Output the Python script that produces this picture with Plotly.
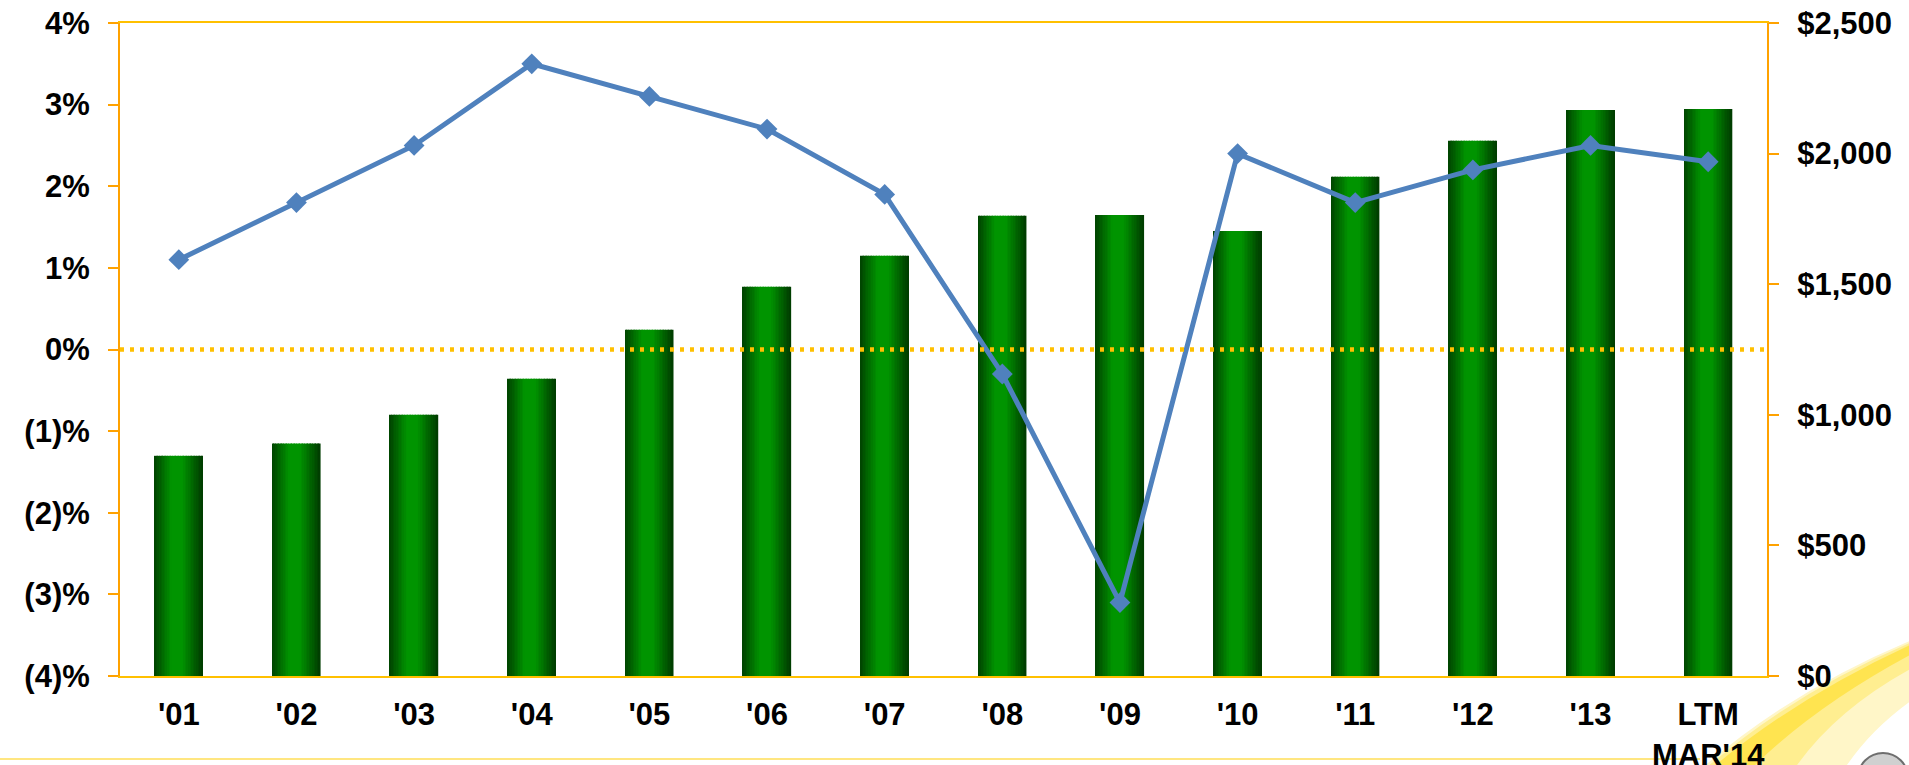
import plotly.graph_objects as go

# ---- data -------------------------------------------------------------
categories = ["'01", "'02", "'03", "'04", "'05", "'06", "'07",
              "'08", "'09", "'10", "'11", "'12", "'13", "LTM<br>MAR'14"]
revenue = [843, 890, 1000, 1138, 1326, 1490, 1609,
           1762, 1765, 1704, 1911, 2049, 2167, 2171]          # $ (right axis)
growth = [1.1, 1.8, 2.5, 3.5, 3.1, 2.7, 1.9,
          -0.3, -3.1, 2.4, 1.8, 2.2, 2.5, 2.3]                # % (left axis)

pct_ticks = [-4, -3, -2, -1, 0, 1, 2, 3, 4]
pct_labels = ["(4)%", "(3)%", "(2)%", "(1)%", "0%", "1%", "2%", "3%", "4%"]
usd_ticks = [0, 500, 1000, 1500, 2000, 2500]
usd_labels = ["$0", "$500", "$1,000", "$1,500", "$2,000", "$2,500"]

# ---- styling ----------------------------------------------------------
W, H = 1909, 765
ML, MR, MT, MB = 120, 142, 23, 89
FONT = "Liberation Sans, Arial, Helvetica, sans-serif"
ORANGE = "#FFA200"
GOLD = "#FFC000"
LINE_BLUE = "#4F81BD"

BAR_W = 0.41
N_SLICES = 30
# cylinder-like shading across each bar (position, rgb)
shade_stops = [(0.00, (0, 66, 0)), (0.36, (0, 148, 0)),
               (0.58, (0, 148, 0)), (1.00, (0, 58, 0))]


def shade(t):
    for (t0, c0), (t1, c1) in zip(shade_stops[:-1], shade_stops[1:]):
        if t0 <= t <= t1:
            f = (t - t0) / (t1 - t0) if t1 > t0 else 0
            r, g, b = (round(a + (bb - a) * f) for a, bb in zip(c0, c1))
            return f"rgb({r},{g},{b})"
    return "rgb(%d,%d,%d)" % shade_stops[-1][1]


fig = go.Figure()

step = BAR_W / N_SLICES
for i in range(N_SLICES):
    w = step if i == N_SLICES - 1 else step * 1.15
    fig.add_trace(go.Bar(
        x=categories, y=revenue, yaxis="y",
        width=w, offset=-BAR_W / 2 + i * step,
        marker=dict(color=shade((i + 0.5) / N_SLICES), line=dict(width=0)),
        hoverinfo="skip", showlegend=False,
    ))

fig.add_trace(go.Scatter(
    x=categories, y=growth, yaxis="y2", mode="lines+markers",
    line=dict(color=LINE_BLUE, width=5),
    marker=dict(symbol="diamond", size=16, color=LINE_BLUE),
    showlegend=False,
))


# ---- decoration: light beam in the lower right corner -----------------
def px(x):
    return (x - ML) / (W - ML - MR)


def py(y):
    return (H - MB - y) / (H - MT - MB)


def path(points):
    out = []
    for cmd, *xy in points:
        coords = " ".join(f"{px(xy[k]):.5f},{py(xy[k + 1]):.5f}"
                          for k in range(0, len(xy), 2))
        out.append(f"{cmd} {coords}")
    return " ".join(out) + " Z"


beam_layers = [
    ("#FFF6C8", [("M", 1912, 640), ("L", 1912, 700),
                 ("Q", 1870, 730, 1845, 768), ("L", 1702, 768),
                 ("Q", 1792, 690, 1912, 640)]),
    ("#FFEE90", [("M", 1912, 642), ("L", 1912, 668),
                 ("Q", 1835, 710, 1795, 768), ("L", 1706, 768),
                 ("Q", 1794, 692, 1912, 642)]),
    ("#FFE450", [("M", 1912, 644), ("Q", 1798, 696, 1712, 768),
                 ("L", 1752, 768), ("Q", 1815, 706, 1912, 654)]),
]

shapes = [
    # faint rule along the bottom of the page
    dict(type="line", xref="paper", yref="paper",
         x0=px(0), x1=px(1700), y0=py(759), y1=py(759),
         line=dict(color="#FFE680", width=2), layer="below"),
]
for color, pts in beam_layers:
    shapes.append(dict(type="path", xref="paper", yref="paper",
                       path=path(pts), fillcolor=color,
                       line=dict(width=0), layer="below"))
shapes.append(dict(type="circle", xref="paper", yref="paper",
                   x0=px(1858), x1=px(1908), y0=py(753), y1=py(803),
                   fillcolor="#D0D0D0", line=dict(color="#6E6E6E", width=2),
                   layer="below"))
# dotted zero line of the growth axis
shapes.append(dict(type="line", xref="paper", yref="y2",
                   x0=0, x1=1, y0=0, y1=0,
                   line=dict(color=GOLD, width=4.5, dash="4px,6px"),
                   layer="above"))

tickfont = dict(family=FONT, size=31, color="black", weight="bold")

fig.update_layout(
    width=W, height=H,
    margin=dict(l=ML, r=MR, t=MT, b=MB, pad=0, autoexpand=False),
    paper_bgcolor="white", plot_bgcolor="rgba(0,0,0,0)",
    barmode="overlay", showlegend=False,
    font=dict(family=FONT, size=31, color="black"),
    shapes=shapes,
    xaxis=dict(
        type="category", range=[-0.5, len(categories) - 0.5],
        showline=True, linecolor=GOLD, linewidth=2, mirror=True,
        ticks="", showgrid=False, zeroline=False, automargin=False,
        tickfont=tickfont, ticklabelstandoff=10,
    ),
    yaxis=dict(
        side="right", range=[0, 2500], automargin=False,
        tickmode="array", tickvals=usd_ticks, ticktext=usd_labels,
        showline=True, linecolor=ORANGE, linewidth=2,
        ticks="outside", ticklen=10, tickwidth=2, tickcolor=ORANGE,
        showgrid=False, zeroline=False,
        tickfont=tickfont, ticklabelstandoff=12,
    ),
    yaxis2=dict(
        side="left", overlaying="y", anchor="x", range=[-4, 4],
        automargin=False,
        tickmode="array", tickvals=pct_ticks, ticktext=pct_labels,
        showline=True, linecolor=ORANGE, linewidth=2,
        ticks="outside", ticklen=10, tickwidth=2, tickcolor=ORANGE,
        showgrid=False, zeroline=False,
        tickfont=tickfont, ticklabelstandoff=12,
    ),
)

fig.write_html("out.html")
